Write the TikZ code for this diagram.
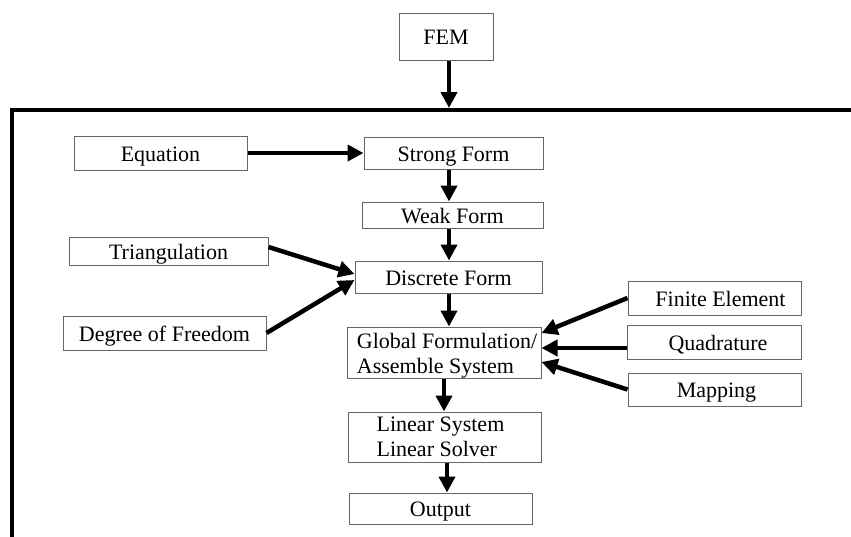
\documentclass[tikz,border=0pt]{standalone}
\usepackage{fontspec}
\setmainfont{Liberation Serif}
\usetikzlibrary{arrows.meta,calc}
\tikzset{
  box/.style={draw=black!60, line width=1pt, inner sep=0pt, align=center, text height=16pt, text depth=0pt, font=\fontsize{22}{25}\selectfont},
  mbox/.style={draw=black!60, line width=1pt, inner sep=0pt, font=\fontsize{22}{25}\selectfont},
  arr/.style={line width=4.5pt, -{Triangle[length=16pt,width=16pt]}},
  frame/.style={line width=4.5pt}
}
\begin{document}
\begin{tikzpicture}[x=1pt,y=-1pt]
\useasboundingbox (0,0) rectangle (851,536);
\fill[white] (0,0) rectangle (851,536);
\node[box, minimum width=94pt, minimum height=47pt] (fem) at (446,36.5) {FEM};
\node[box, minimum width=173pt, minimum height=34pt] (eq) at (160.5,153) {Equation};
\node[box, minimum width=179pt, minimum height=32pt] (strong) at (453.5,153) {Strong Form};
\node[box, minimum width=181pt, minimum height=26pt] (weak) at (452.5,215) {Weak Form};
\node[box, minimum width=199pt, minimum height=28pt] (tri) at (168.5,251) {Triangulation};
\node[box, minimum width=187pt, minimum height=32pt] (disc) at (448.5,277) {Discrete Form};
\node[box, minimum width=203pt, minimum height=34pt] (dof) at (164.5,333) {Degree of Freedom};
\node[mbox, minimum width=194pt, minimum height=51pt] (glob) at (444,352.5) {\hspace*{6pt}\raisebox{-3pt}[\height][\depth]{\begin{tabular}{@{}l@{}}Global Formulation/\\Assemble System\end{tabular}}};
\node[box, minimum width=173pt, minimum height=34pt] (fe) at (714.5,298) {\hspace*{12pt}Finite Element};
\node[box, minimum width=174pt, minimum height=34pt] (quad) at (714,342) {\hspace*{8pt}Quadrature};
\node[box, minimum width=173pt, minimum height=33pt] (map) at (714.5,389.5) {\hspace*{4pt}Mapping};
\node[mbox, minimum width=193pt, minimum height=48pt] (lin) at (444.5,437) {\raisebox{-2pt}[\height][\depth]{\begin{tabular}{@{}l@{}}Linear System\\Linear Solver\end{tabular}}\hspace*{8pt}};
\node[box, minimum width=183pt, minimum height=31pt] (out) at (440.5,508.5) {Output};
% frame
\coordinate (ftop) at (449,108);
\draw[frame] (860,110) -- (12,110) -- (12,545);
% arrows
\draw[arr] (fem.south -| ftop) -- (ftop);
\draw[arr] (eq.east) -- (strong.west);
\draw[arr] (strong.south -| 449,0) -- (weak.north -| 449,0);
\draw[arr] (weak.south -| 449,0) -- (disc.north -| 449,0);
\draw[arr] ([yshift=4pt]tri.east) -- ([yshift=3pt]disc.west);
\draw[arr] (dof.east) -- ([yshift=-3pt]disc.west);
\draw[arr] (disc.south -| 449,0) -- (glob.north -| 449,0);
\draw[arr] (fe.west) -- ([yshift=19.5pt]glob.east);
\draw[arr] ([yshift=-6pt]quad.west) -- ([yshift=4.5pt]glob.east);
\draw[arr] (map.west) -- ([yshift=-9.5pt]glob.east);
\draw[arr] (glob.south -| 444,0) -- (lin.north -| 444,0);
\draw[arr] (lin.south -| 447,0) -- (out.north -| 447,0);
\end{tikzpicture}
\end{document}
